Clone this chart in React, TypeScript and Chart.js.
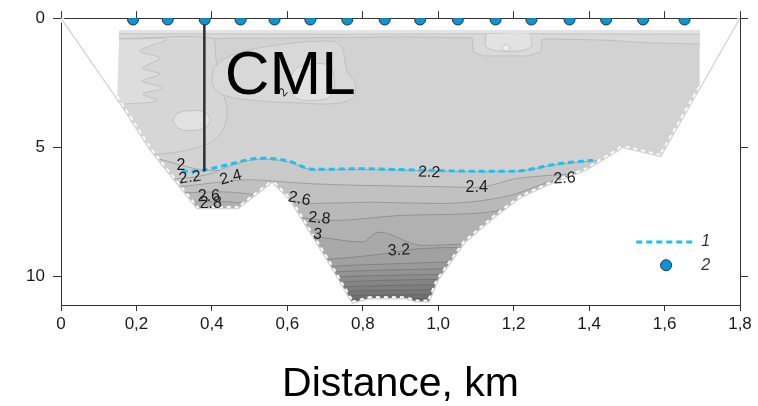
import { useEffect, useRef } from 'react';
import { Chart, registerables } from 'chart.js';

Chart.register(...registerables);

type P = [number, number]; // [distance km, depth m]

const FONT = "'Liberation Sans', Arial, sans-serif";

// axis extents
const xMax = 1.8;
const depthMax = 11.1;
const xTickStep = 0.2;
const depthTickStep = 5;

// bottom profile along the transect, shore to shore
const outline: P[] = [
  [0, 0], [0.154, 3.25], [0.236, 5.1], [0.36, 7.37], [0.47, 7.37], [0.56, 6.36],
  [0.607, 7.05], [0.705, 9.36], [0.772, 11.03], [0.817, 10.86], [0.915, 10.86],
  [0.94, 10.98], [0.976, 10.98], [1.0, 10.14], [1.07, 8.7], [1.15, 7.7], [1.22, 6.93],
  [1.3, 6.4], [1.39, 5.9], [1.478, 5.12], [1.487, 5.0], [1.59, 5.35], [1.693, 2.74], [1.8, 0],
];

// limits of the gridded section
const sectionTop = 0.46;
const sectionLeft = 0.154;
const sectionRight = 1.693;

// stations (2)
const stations = [0.191, 0.283, 0.381, 0.476, 0.566, 0.661, 0.759, 0.858, 0.952, 1.052, 1.152, 1.247, 1.348, 1.445, 1.543, 1.653];
const stationDepth = 0.05;

// lower boundary of the mixed layer (1)
const mixedLayer: P[] = [
  [0.32, 5.93], [0.37, 5.9], [0.45, 5.64], [0.53, 5.42], [0.6, 5.52], [0.67, 5.85],
  [0.8, 5.83], [0.95, 5.88], [1.1, 5.92], [1.2, 5.92], [1.32, 5.63], [1.41, 5.5],
];

// CML marker
const cmlX = 0.38;
const cmlDepth = 5.93;

// light patches in the upper layer
const topBand: P[] = [[0.154, 0.46], [1.693, 0.46], [1.693, 1.0], [1.55, 0.95], [1.45, 0.85], [1.3, 0.8], [1.275, 0.82], [1.272, 1.3], [1.24, 1.46], [1.12, 1.46], [1.093, 1.3], [1.09, 0.76], [0.9, 0.72], [0.7, 0.75], [0.5, 0.78], [0.154, 0.8]];
const topStrip: P[] = [[0.154, 0.46], [1.693, 0.46], [1.693, 0.62], [1.2, 0.6], [0.8, 0.62], [0.154, 0.6]];
const hollow: P[] = [[1.126, 0.62], [1.246, 0.62], [1.246, 1.1], [1.22, 1.26], [1.15, 1.26], [1.126, 1.1]];
const hollowCore: P[] = [[1.167, 1.15], [1.18, 1.0], [1.193, 1.15], [1.18, 1.3]];
const westZone: P[] = [[0.154, 0.8], [0.4, 0.78], [0.41, 1.5], [0.42, 2.5], [0.44, 3.5], [0.43, 4.3], [0.39, 4.85], [0.3, 5.2], [0.2, 5.3], [0.154, 5.3]];
const westFringe: P[] = [[0.154, 0.8], [0.2, 0.8], [0.281, 0.81], [0.209, 1.27], [0.262, 1.54], [0.217, 1.93], [0.262, 2.16], [0.215, 2.43], [0.27, 2.7], [0.217, 2.93], [0.255, 3.2], [0.183, 3.31], [0.154, 3.35]];
const westLens: P[] = [[0.297, 3.95], [0.31, 3.68], [0.345, 3.58], [0.38, 3.64], [0.395, 3.9], [0.385, 4.2], [0.35, 4.35], [0.31, 4.25]];
const centralZone: P[] = [[0.403, 1.93], [0.448, 1.46], [0.554, 1.08], [0.719, 0.89], [0.745, 1.16], [0.758, 2.04], [0.78, 2.54], [0.774, 3.08], [0.721, 3.31], [0.634, 3.28], [0.528, 3.2], [0.435, 3.0], [0.403, 2.62]];
const centralLens: P[] = [[0.607, 2.5], [0.62, 2.0], [0.66, 1.78], [0.71, 1.85], [0.725, 2.4], [0.715, 3.0], [0.67, 3.18], [0.62, 3.05]];

// isolines
const iso20: P[] = [[0.2, 5.25], [0.26, 5.45], [0.318, 5.69], [0.37, 5.86], [0.42, 5.9]];
const iso22: P[] = [[0.2, 6.3], [0.3, 6.22], [0.342, 6.17], [0.4, 6.0], [0.45, 5.7], [0.53, 5.45], [0.6, 5.55], [0.67, 5.87], [0.8, 5.85], [0.95, 5.9], [1.1, 5.94], [1.2, 5.93], [1.32, 5.65], [1.41, 5.52], [1.5, 5.42]];
const iso24: P[] = [[0.2, 6.65], [0.3, 6.55], [0.4, 6.38], [0.5, 6.25], [0.56, 6.3], [0.667, 6.41], [0.8, 6.47], [1.0, 6.52], [1.1, 6.55], [1.21, 6.2], [1.3, 6.08], [1.42, 5.97], [1.5, 5.9]];
const iso26: P[] = [[0.2, 6.8], [0.33, 6.75], [0.42, 6.72], [0.5, 6.8], [0.58, 6.95], [0.667, 7.17], [0.82, 7.12], [1.0, 7.17], [1.19, 6.86], [1.29, 6.35], [1.36, 6.05], [1.45, 5.9]];
const iso28: P[] = [[0.2, 7.15], [0.33, 7.12], [0.42, 7.1], [0.5, 7.2], [0.6, 7.6], [0.719, 7.83], [0.904, 7.63], [1.08, 7.57], [1.16, 7.45], [1.3, 7.0]];
const iso30: P[] = [[0.58, 8.3], [0.684, 8.47], [0.798, 8.66], [0.842, 8.28], [0.957, 8.79], [1.08, 8.73], [1.2, 8.6]];
const iso32: P[] = [[0.6, 9.4], [0.728, 9.31], [0.86, 9.11], [0.95, 8.92], [1.107, 8.86], [1.2, 8.8]];
const iso34: P[] = [[0.6, 9.75], [0.72, 9.6], [0.85, 9.52], [0.95, 9.47], [1.05, 9.42], [1.15, 9.3]];
const iso36: P[] = [[0.6, 9.95], [0.75, 9.8], [0.88, 9.74], [1.0, 9.7], [1.1, 9.62]];
const iso38: P[] = [[0.6, 10.12], [0.77, 9.99], [0.9, 9.94], [1.05, 9.9]];
const iso40: P[] = [[0.6, 10.3], [0.78, 10.18], [0.9, 10.13], [1.05, 10.1]];
const iso42: P[] = [[0.6, 10.48], [0.8, 10.37], [0.92, 10.33], [1.05, 10.3]];
const iso44: P[] = [[0.6, 10.64], [0.8, 10.55], [0.92, 10.52], [1.05, 10.5]];
const iso46: P[] = [[0.6, 10.8], [0.8, 10.72], [0.92, 10.7], [1.05, 10.68]];
const iso48: P[] = [[0.6, 10.95], [0.8, 10.86], [0.92, 10.85], [1.05, 10.85]];

const isolines = [iso20, iso22, iso24, iso26, iso28, iso30, iso32, iso34, iso36, iso38, iso40, iso42, iso44, iso46, iso48];

// isoline labels: text, distance, depth, angle (deg)
const isoLabels: [string, number, number, number][] = [
  ['2', 0.318, 5.69, 0], ['2.2', 0.342, 6.17, -8], ['2.4', 0.45, 6.17, -15],
  ['2.6', 0.392, 6.9, 0], ['2.8', 0.397, 7.18, 0], ['2.6', 0.632, 7.0, 12],
  ['2.8', 0.685, 7.75, 5], ['3', 0.68, 8.37, 8], ['3.2', 0.896, 8.99, -3],
  ['2.2', 0.976, 5.97, 2], ['2.4', 1.102, 6.55, 0], ['2.6', 1.335, 6.2, -3],
];

// shading, from the isoline 2.0 downward
const bandShades = ['#cecece', '#c9c9c9', '#c1c1c1', '#b9b9b9', '#b1b1b1', '#a9a9a9', '#a1a1a1', '#9a9a9a', '#939393', '#8c8c8c', '#858585', '#7e7e7e', '#777777', '#707070', '#696969'];

const xy = (p: P[]) => p.map(([x, y]) => ({ x, y }));
const ring = (p: P[]) => [...p, p[0]];

export default function App() {
  const ref = useRef<HTMLCanvasElement>(null);

  useEffect(() => {
    const seabed = outline.slice(1, -1);
    const section: P[] = [[sectionLeft, sectionTop], [sectionRight, sectionTop], ...[...seabed].reverse()];
    const shoreMask: P[] = [
      [0.01, seabed[0][1]], ...seabed, [xMax - 0.01, seabed[seabed.length - 1][1]],
      [xMax - 0.01, depthMax], [0.01, depthMax],
    ];

    const clear = 'rgba(0,0,0,0)';
    const patchStroke = '#b6b6b6';
    // filled area, no outline
    const shape = (p: P[], color: string, tension = 0) => ({
      type: 'line' as const, data: xy(ring(p)), fill: 'shape', backgroundColor: color,
      borderColor: clear, borderWidth: 0, pointRadius: 0, tension,
    });
    // isoline drawn along the inner border of a patch
    const trace = (p: P[], tension = 0) => ({
      type: 'line' as const, data: xy(p), fill: false,
      borderColor: patchStroke, borderWidth: 0.7, pointRadius: 0, tension,
    });

    const datasets: any[] = [
      shape(section, '#d2d2d2'),
      shape(topBand, '#d9d9d9'),
      trace(topBand.slice(2)),
      shape(topStrip, '#e3e3e3'),
      trace(topStrip.slice(2)),
      shape(hollow, '#e2e2e2', 0.2),
      trace([...hollow.slice(1), hollow[0]], 0.2),
      shape(hollowCore, '#eeeeee'),
      trace(ring(hollowCore)),
      shape(westZone, '#d6d6d6', 0.3),
      trace(westZone, 0.3),
      shape(westFringe, '#dddddd', 0.3),
      trace(westFringe, 0.3),
      shape(westLens, '#e1e1e1', 0.4),
      trace(ring(westLens), 0.4),
      shape(centralZone, '#d8d8d8', 0.35),
      trace(ring(centralZone), 0.35),
      shape(centralLens, '#e2e2e2', 0.4),
      trace(ring(centralLens), 0.4),
      ...isolines.map((line, i) => ({
        type: 'line', data: xy(line), fill: 'start', backgroundColor: bandShades[i],
        borderColor: 'rgba(70,70,70,0.38)', borderWidth: 0.8, pointRadius: 0,
        cubicInterpolationMode: 'monotone',
      })),
      shape(shoreMask, '#ffffff'),
      // ragged blanking edge along the bottom
      {
        type: 'line', data: xy(outline), fill: false, borderColor: '#ffffff',
        borderWidth: 5, borderDash: [4, 4], pointRadius: 0, tension: 0,
      },
      {
        type: 'line', data: xy(outline), fill: false, borderColor: '#d6d6d6',
        borderWidth: 1.4, pointRadius: 0, tension: 0,
      },
      {
        type: 'line', data: xy(mixedLayer), fill: false, borderColor: '#14c4f2',
        borderWidth: 3, borderDash: [6, 4], pointRadius: 0, cubicInterpolationMode: 'monotone',
      },
      {
        type: 'line', data: xy([[cmlX, 0], [cmlX, cmlDepth]]), fill: false,
        borderColor: '#2e2e2e', borderWidth: 2.5, pointRadius: 0,
      },
      {
        type: 'line', data: stations.map((x) => ({ x, y: stationDepth })), showLine: false,
        pointRadius: 5.5, pointBackgroundColor: '#0896d6', pointBorderColor: '#1d3449', pointBorderWidth: 1,
      },
    ];
    datasets.forEach((d, i) => { d.order = -i; });

    const annotate = {
      id: 'annotate',
      afterDatasetsDraw(chart: any) {
        const { ctx } = chart;
        const sx = chart.scales.x;
        const sy = chart.scales.y;
        ctx.save();
        ctx.textAlign = 'center';
        ctx.textBaseline = 'middle';
        ctx.fillStyle = '#1e1e1e';
        ctx.font = `16px ${FONT}`;
        for (const [t, x, d, a] of isoLabels) {
          ctx.save();
          ctx.translate(sx.getPixelForValue(x), sy.getPixelForValue(d));
          ctx.rotate((a * Math.PI) / 180);
          ctx.fillText(t, 0, 0);
          ctx.restore();
        }
        // small label of isoline 2 in the upper layer
        ctx.save();
        ctx.font = `12px ${FONT}`;
        ctx.translate(sx.getPixelForValue(0.59), sy.getPixelForValue(2.88));
        ctx.rotate(-0.9);
        ctx.fillText('2', 0, 0);
        ctx.restore();

        ctx.textAlign = 'left';
        ctx.textBaseline = 'alphabetic';
        ctx.fillStyle = '#000';
        ctx.font = `62px ${FONT}`;
        ctx.fillText('CML', sx.getPixelForValue(0.434), sy.getPixelForValue(2.92));

        // legend
        const ly1 = sy.getPixelForValue(8.66);
        const ly2 = sy.getPixelForValue(9.56);
        ctx.strokeStyle = '#14c4f2';
        ctx.lineWidth = 3;
        ctx.setLineDash([6, 4]);
        ctx.beginPath();
        ctx.moveTo(sx.getPixelForValue(1.525), ly1);
        ctx.lineTo(sx.getPixelForValue(1.673), ly1);
        ctx.stroke();
        ctx.setLineDash([]);
        ctx.beginPath();
        ctx.arc(sx.getPixelForValue(1.604), ly2, 5.5, 0, Math.PI * 2);
        ctx.fillStyle = '#0896d6';
        ctx.fill();
        ctx.lineWidth = 1;
        ctx.strokeStyle = '#1d3449';
        ctx.stroke();
        ctx.fillStyle = '#333';
        ctx.textBaseline = 'middle';
        ctx.font = `italic 16px ${FONT}`;
        ctx.fillText('1', sx.getPixelForValue(1.697), ly1);
        ctx.fillText('2', sx.getPixelForValue(1.697), ly2);
        ctx.restore();
      },
    };

    const axisColor = '#333';
    const tickFont = { family: FONT, size: 17 };
    const chart = new Chart(ref.current as HTMLCanvasElement, {
      type: 'line',
      data: { datasets },
      plugins: [annotate],
      options: {
        animation: false,
        responsive: false,
        maintainAspectRatio: false,
        layout: { padding: 0 },
        plugins: { legend: { display: false }, tooltip: { enabled: false } },
        scales: {
          x: {
            type: 'linear', position: 'bottom', min: 0, max: xMax,
            ticks: {
              stepSize: xTickStep, autoSkip: false, maxRotation: 0, includeBounds: false,
              font: tickFont, color: '#1a1a1a', padding: 3,
              callback: (v: any) => (Number(v) === 0 ? '0' : Number(v).toFixed(1).replace('.', ',')),
            },
            grid: { drawOnChartArea: false, tickLength: 6, color: axisColor },
            border: { color: axisColor },
            title: { display: true, text: 'Distance, km', color: '#000', font: { family: FONT, size: 41, lineHeight: 1.05 }, padding: 0 },
            afterFit: (s: any) => { s.height = 101; },
          },
          x2: {
            type: 'linear', position: 'top', min: 0, max: xMax,
            ticks: { stepSize: xTickStep, display: false, includeBounds: false },
            grid: { drawOnChartArea: false, tickLength: 7, color: axisColor },
            border: { color: axisColor },
            afterFit: (s: any) => { s.height = 17; },
          },
          y: {
            type: 'linear', position: 'left', reverse: true, min: 0, max: depthMax,
            ticks: { stepSize: depthTickStep, includeBounds: false, font: tickFont, color: '#1a1a1a', padding: 8 },
            grid: { drawOnChartArea: false, tickLength: 8, color: axisColor },
            border: { color: axisColor },
            afterFit: (s: any) => { s.width = 61; },
          },
          y2: {
            type: 'linear', position: 'right', reverse: true, min: 0, max: depthMax,
            ticks: { stepSize: depthTickStep, display: false, includeBounds: false },
            grid: { drawOnChartArea: false, tickLength: 8, color: axisColor },
            border: { color: axisColor },
            afterFit: (s: any) => { s.width = 18; },
          },
        },
      } as any,
    });
    return () => chart.destroy();
  }, []);

  return (
    <div style={{ position: 'absolute', left: 0, top: 0, width: 758, height: 406, background: '#fff' }}>
      <canvas ref={ref} width={758} height={406} style={{ display: 'block' }} />
    </div>
  );
}
